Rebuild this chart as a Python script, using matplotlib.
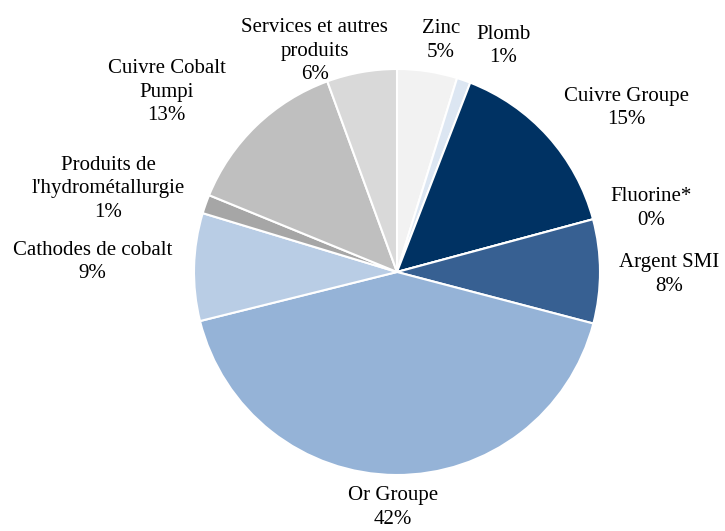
import numpy as np
import matplotlib
matplotlib.use("Agg")
import matplotlib.pyplot as plt

labels = ["Zinc", "Plomb", "Cuivre Groupe", "Fluorine*", "Argent SMI", "Or Groupe",
          "Cathodes de cobalt", "Produits de\nl'hydrométallurgie", "Cuivre Cobalt\nPumpi",
          "Services et autres\nproduits"]
shares = [4.8, 1.1, 15.0, 0.0, 8.3, 42.2, 8.6, 1.5, 13.3, 5.6]
pct_labels = ["5%", "1%", "15%", "0%", "8%", "42%", "9%", "1%", "13%", "6%"]
colors = ["#f2f2f2", "#dce6f2", "#003263", "#1f497d", "#376092", "#95b3d7",
          "#b9cde5", "#a6a6a6", "#bfbfbf", "#d9d9d9"]

# label placement (radius factor, angle in degrees)
label_pos = [(1.16, 79.3), (1.23, 64.8), (1.39, 35.6), (1.29, 14.0), (1.34, -0.5),
             (1.16, -91.0), (1.50, 178.1), (1.48, 163.9), (1.44, 142.0), (1.16, 110.4)]

plt.rcParams['font.family'] = ['Liberation Serif', 'DejaVu Serif']

fig = plt.figure(figsize=(7.25, 5.31), dpi=100)
ax = fig.add_axes([0, 0, 1, 1])
ax.pie(shares, colors=colors, startangle=90, counterclock=False, radius=1.0,
       wedgeprops=dict(edgecolor="white", linewidth=1.5))
for lab, pct, (r, a) in zip(labels, pct_labels, label_pos):
    x = r * np.cos(np.radians(a))
    y = r * np.sin(np.radians(a))
    ax.text(x, y, f"{lab}\n{pct}", ha="center", va="center", fontsize=15,
            linespacing=1.32, color="black")

ax.set_xlim(-397 / 203, (725 - 397) / 203)
ax.set_ylim(-259 / 203, 272 / 203)
ax.set_aspect("auto")
ax.axis("off")
fig.savefig("out.png", dpi=100)
